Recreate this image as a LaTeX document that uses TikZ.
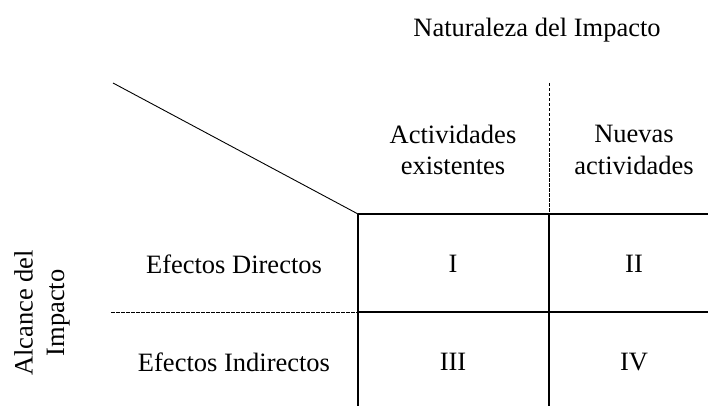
\documentclass[tikz,border=0pt]{standalone}
\usepackage{fontspec}
\setmainfont{Liberation Serif}
\begin{document}
\begin{tikzpicture}[x=1pt,y=-1pt,
  lbl/.style={font=\fontsize{26.5}{31.5}\selectfont, align=center, inner sep=0pt},
  grid/.style={line width=1.8pt},
  dsh/.style={line width=0.6pt, dash pattern=on 3.5pt off 1.5pt}]
\useasboundingbox (0,0) rectangle (708,406);
% coordinates
\coordinate (tl) at (358,214);
\coordinate (tm) at (549,214);
\coordinate (tr) at (708,214);
\coordinate (ml) at (358,312);
\coordinate (mr) at (708,312);
\coordinate (bl) at (358,406);
\coordinate (bm) at (549,406);
\coordinate (dtop) at (549,83);
\coordinate (dleft) at (111,312);
\coordinate (diag) at (113,83);
% lines
\draw[line width=0.9pt] (diag) -- (tl);
\draw[grid] (tl) -- (tr);
\draw[grid] (ml) -- (mr);
\draw[grid] (tl) -- (bl);
\draw[grid] (tm) -- (bm);
\draw[dsh] (dtop) -- (tm);
\draw[dsh] (dleft) -- (ml);
% texts
\node[lbl] (nat) at (537,30) {Naturaleza del Impacto};
\node[lbl] (act) at (453,150) {Actividades\\existentes};
\node[lbl] (nue) at (634,150) {Nuevas\\actividades};
\node[lbl] (dir) at (234,264) {Efectos Directos};
\node[lbl] (ind) at (234,362) {Efectos Indirectos};
\node[lbl, rotate=90] (alc) at (42,313) {Alcance del\\Impacto};
\node[lbl] (c1) at (453,264) {I};
\node[lbl] (c2) at (634,264) {II};
\node[lbl] (c3) at (453,362) {III};
\node[lbl] (c4) at (634,362) {IV};
\end{tikzpicture}
\end{document}
